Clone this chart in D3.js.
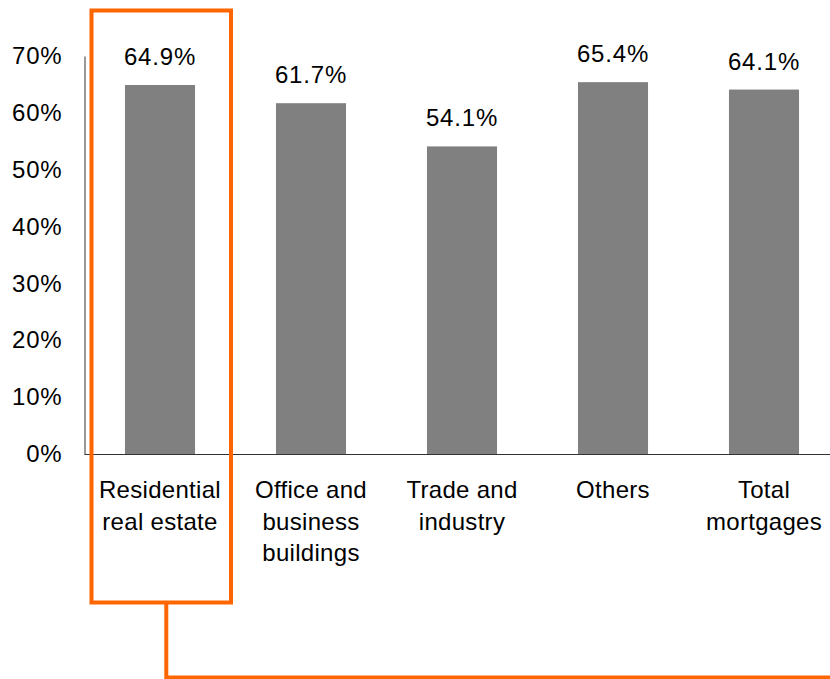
<!DOCTYPE html>
<html><head><meta charset="utf-8">
<script src="https://cdn.jsdelivr.net/npm/d3@7"></script>
<style>body{margin:0;background:#fff}svg{display:block}text{font-family:"Liberation Sans",Arial,sans-serif;fill:#000}</style>
</head><body><svg id="c" width="830" height="679"></svg>
<script>
const categories = [["Residential","real estate"],["Office and","business","buildings"],["Trade and","industry"],["Others"],["Total","mortgages"]];
const values = [64.9, 61.7, 54.1, 65.4, 64.1];
const valueLabels = ["64.9%","61.7%","54.1%","65.4%","64.1%"];
const yTicks = [0,10,20,30,40,50,60,70];

const svg = d3.select("#c");
const x0 = 84.5, step = 151;
const x = d3.scaleBand().domain(d3.range(values.length)).range([x0, x0 + step*values.length]).paddingInner(0.536).paddingOuter(0.268);
const y = d3.scaleLinear().domain([0,70]).range([454,56]);

// bars
svg.selectAll("rect.bar").data(values).join("rect").attr("class","bar")
  .attr("x",(d,i)=>x(i)).attr("width",x.bandwidth())
  .attr("y",d=>y(d)).attr("height",d=>y(0)-y(d)).attr("fill","#808080");

// axes
const yAxis = d3.axisLeft(y).tickValues(yTicks).tickSize(0).tickPadding(22).tickFormat(d=>d+"%");
const gy = svg.append("g").attr("transform",`translate(${x0},0)`).call(yAxis);
gy.select(".domain").attr("stroke","#333");
gy.selectAll("text").attr("font-size",24).attr("font-family","Liberation Sans, Arial, sans-serif").attr("fill","#000").attr("letter-spacing","0.8px");
svg.append("line").attr("x1",x0).attr("x2",830).attr("y1",y(0)+0.5).attr("y2",y(0)+0.5).attr("stroke","#333");

// value labels
svg.selectAll("text.val").data(values).join("text").attr("class","val")
  .attr("x",(d,i)=>x(i)+x.bandwidth()/2).attr("y",d=>y(d)-20)
  .attr("text-anchor","middle").attr("font-size",24).attr("letter-spacing","0.8px")
  .text((d,i)=>valueLabels[i]);

// category labels
const cg = svg.selectAll("text.cat").data(categories).join("text").attr("class","cat")
  .attr("text-anchor","middle").attr("font-size",24).attr("letter-spacing","0.3px");
cg.each(function(lines,i){
  d3.select(this).selectAll("tspan").data(lines).join("tspan")
    .attr("x",x(i)+x.bandwidth()/2).attr("y",(l,j)=>498+j*31.5).text(l=>l);
});

// highlight box and connector
const orange = "#FF6600";
svg.append("rect").attr("x",91.5).attr("y",10.5).attr("width",139.5).attr("height",592)
  .attr("fill","none").attr("stroke",orange).attr("stroke-width",4);
svg.append("path").attr("d","M166.3,602.5 V677.5 H830").attr("fill","none").attr("stroke",orange).attr("stroke-width",4);
</script></body></html>
